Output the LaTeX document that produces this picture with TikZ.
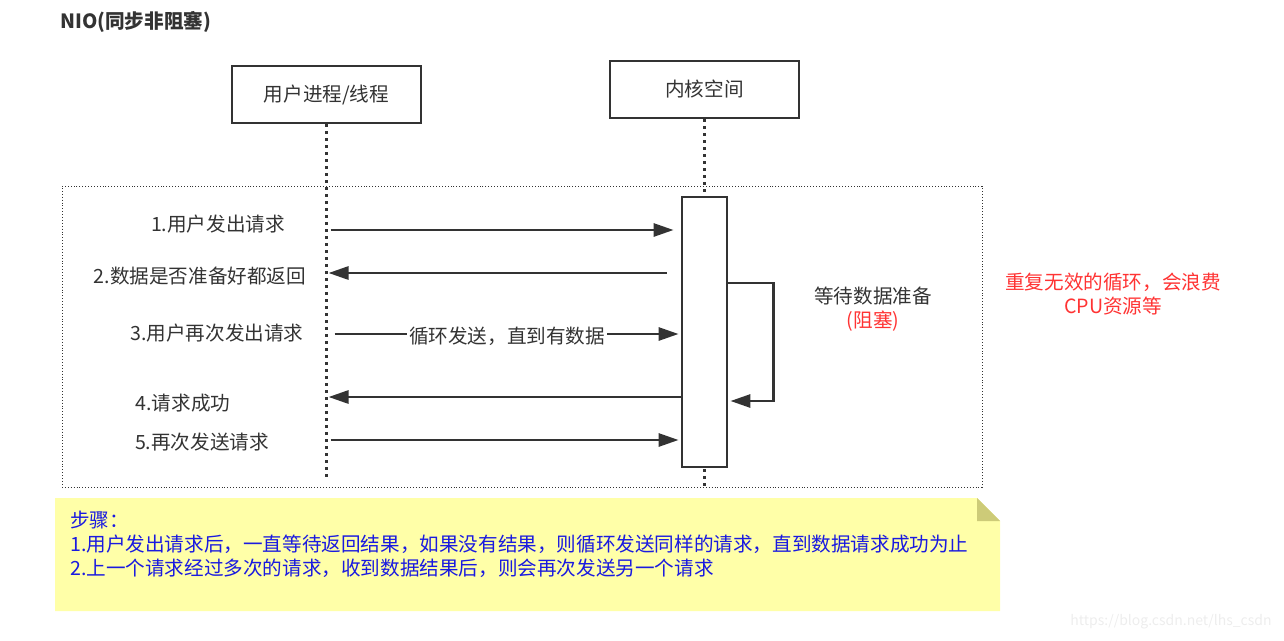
\documentclass[tikz,border=0pt]{standalone}
\usepackage{fontspec}
\setmainfont{Noto Sans CJK SC}
\usetikzlibrary{arrows.meta,positioning,calc}
\definecolor{ink}{HTML}{333333}
\definecolor{notefill}{HTML}{FFFFA8}
\definecolor{notefold}{HTML}{CDCB78}
\definecolor{warnred}{HTML}{FF3333}
\definecolor{noteblue}{HTML}{1A1AE0}

\begin{document}
\begin{tikzpicture}[
  x=1pt, y=-1pt,
  font=\fontsize{19.6}{24}\selectfont,
  >={Triangle[length=20pt,width=13pt]},
  % Block styles
  actor/.style={
    draw=ink, line width=2.8pt, text=ink, inner sep=0pt,
    minimum width=189pt, minimum height=57pt
  },
  lifeline/.style={ink, line width=2.8pt, dash pattern=on 2.8pt off 4.2pt},
  msg/.style={->, ink, line width=2.8pt},
  lbl/.style={text=ink, inner sep=0pt}
]
\useasboundingbox (0,0) rectangle (1284,640);

% ── Title ────────────────────────────────────────────────────────────────────
\node[lbl, anchor=west, font=\fontsize{19.6}{24}\selectfont\bfseries] (title) at (60,22) {NIO(同步非阻塞)};

% ── Loop frame ───────────────────────────────────────────────────────────────
\node[draw=ink, dotted, line width=0.9pt,
      minimum width=920pt, minimum height=301pt] (frame) at (522,336.5) {};

% ── Participants ─────────────────────────────────────────────────────────────
\node[actor] (user) at (326.5,94.5) {用户进程/线程};
\node[actor] (kern) at (704.5,89.5) {内核空间};

% Lifeline ends
\coordinate (uend) at (326.5,480);
\coordinate (kend) at (704.5,488);

\draw[lifeline] (user.south) -- (uend);
\draw[lifeline] (kern.south) -- (kend);

% ── Activation ───────────────────────────────────────────────────────────────
\node[draw=ink, line width=2.8pt, fill=white,
      minimum width=45pt, minimum height=270pt] (act) at (704.5,332) {};

% ── Message rows ─────────────────────────────────────────────────────────────
\coordinate (r1) at (0,230);
\coordinate (r2) at (0,273);
\coordinate (r3) at (0,334);
\coordinate (r4) at (0,397);
\coordinate (r5) at (0,440);
\coordinate (l1) at (0,283);
\coordinate (l2) at (0,401);

\draw[msg, shorten <=4pt, shorten >=7pt] (user |- r1) -- (act.west |- r1);
\draw[msg, shorten <=14pt, shorten >=2pt] (act.west |- r2) -- (user |- r2);
\draw[msg, shorten <=8pt, shorten >=2pt] (user |- r3) --
  node[lbl, fill=white, inner xsep=2pt, pos=0.51, yshift=-2pt] (loop) {循环发送，直到有数据}
  (act.west |- r3);
\draw[msg, shorten >=2pt] (act.west |- r4) -- (user |- r4);
\draw[msg, shorten <=4pt, shorten >=2pt] (user |- r5) -- (act.west |- r5);

% Self call
\draw[msg, shorten >=2pt] (act.east |- l1) -- ++(45,0) |- (act.east |- l2);

% ── Message labels ───────────────────────────────────────────────────────────
\node[lbl] (m1) at (218,224) {1.用户发出请求};
\node[lbl] (m2) at (200,276) {2.数据是否准备好都返回};
\node[lbl] (m3) at (217,333) {3.用户再次发出请求};
\node[lbl] (m4) at (183,403) {4.请求成功};
\node[lbl] (m5) at (202,442) {5.再次发送请求};

\node[lbl, align=center] (wait) at (873,309) {等待数据准备\\\textcolor{warnred}{(阻塞)}};

\node[lbl, text=warnred, align=center] (waste) at (1113,294) {重复无效的循环，会浪费\\CPU资源等};

% ── Note ─────────────────────────────────────────────────────────────────────
\fill[notefill] (55,498) -- (977,498) -- (1000,521) -- (1000,611) -- (55,611) -- cycle;
\fill[notefold] (977,498) -- (1000,521) -- (977,521) -- cycle;
\node[lbl, text=noteblue, anchor=north west, align=left] (steps) at (70,511)
  {步骤：\\
   1.用户发出请求后，一直等待返回结果，如果没有结果，则循环发送同样的请求，直到数据请求成功为止\\
   2.上一个请求经过多次的请求，收到数据结果后，则会再次发送另一个请求};

% Watermark
\node[text=black!7, font=\fontsize{14}{16}\selectfont] (mark) at (1171,622) {https://blog.csdn.net/lhs\_csdn};

\end{tikzpicture}
\end{document}
